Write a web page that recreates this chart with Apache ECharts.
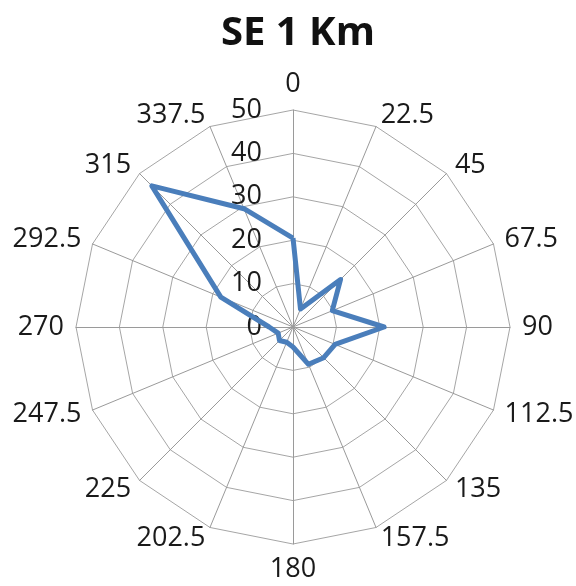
<!DOCTYPE html>
<html>
<head>
<meta charset="utf-8">
<script src="https://cdn.jsdelivr.net/npm/echarts@6/dist/echarts.min.js"></script>
<style>html,body{margin:0;padding:0;background:#fff}#c{width:576px;height:586px}</style>
</head>
<body>
<div id="c"></div>
<script>
var titleText = 'SE 1 Km';
var directions = ['0','22.5','45','67.5','90','112.5','135','157.5','180','202.5','225','247.5','270','292.5','315','337.5'];
var values = [20.5, 4.5, 15.5, 9.8, 21, 10.5, 10, 9.3, 4.6, 3.8, 4.4, 3.7, 5.5, 18, 46, 29.5];
var axisMin = 0, axisMax = 50, ringCount = 5;

// ECharts radar lays indicators counter-clockwise; reorder so compass goes clockwise
var order = directions.map(function(_, i){ return (directions.length - i) % directions.length; });
var indicators = order.map(function(idx, k){
  var ind = {name: directions[idx], min: axisMin, max: axisMax};
  if (k === 0) ind.axisLabel = {show: true};
  return ind;
});
var ordered = order.map(function(idx){ return values[idx]; });

var chart = echarts.init(document.getElementById('c'), null, {renderer: 'canvas'});
chart.setOption({
  animation: false,
  backgroundColor: '#fff',
  title: {
    text: titleText, left: 293, textAlign: 'center', top: 9,
    textStyle: {fontFamily: 'Open Sans', fontWeight: 'bold', fontSize: 40, color: '#111'}
  },
  radar: {
    center: [293, 327],
    radius: 217,
    startAngle: 90,
    shape: 'polygon',
    splitNumber: ringCount,
    indicator: indicators,
    axisName: {color: '#1a1a1a', fontFamily: 'Open Sans', fontSize: 27},
    nameGap: 12,
    axisLine: {lineStyle: {color: '#9a9a9a', width: 1}},
    splitLine: {lineStyle: {color: '#a6a6a6', width: 1}},
    splitArea: {show: false},
    axisTick: {show: false},
    axisLabel: {show: false, color: '#1a1a1a', fontFamily: 'Open Sans', fontSize: 27, margin: 31}
  },
  series: [{
    type: 'radar',
    symbol: 'none',
    lineStyle: {color: '#4a7ebb', width: 5},
    data: [{value: ordered}]
  }]
});
</script>
</body>
</html>
